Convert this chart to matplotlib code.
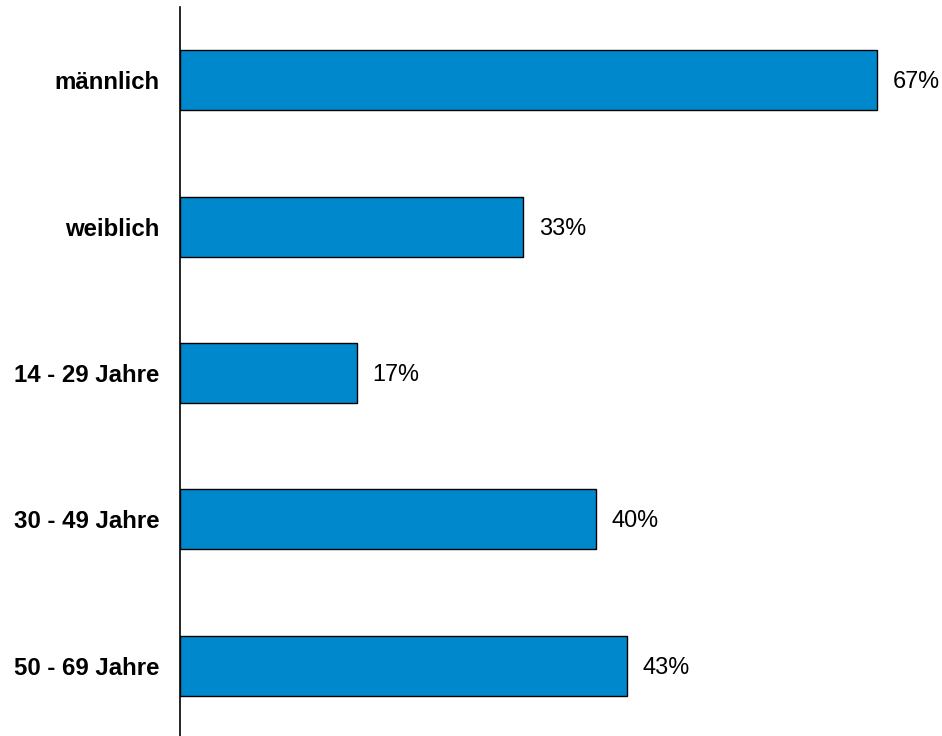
import matplotlib.pyplot as plt

plt.rcParams['font.family'] = ['Liberation Sans', 'DejaVu Sans']

kategorien = ["männlich", "weiblich", "14 - 29 Jahre", "30 - 49 Jahre", "50 - 69 Jahre"]
anteile = [67, 33, 17, 40, 43]

fig = plt.figure(figsize=(9.42, 7.36), dpi=100)
ax = fig.add_axes([180 / 942, 0, 1 - 180 / 942, 1 - 7 / 736])

pos = list(range(len(kategorien)))
ax.barh(pos, anteile, height=0.41, color="#0088CC", edgecolor="black", linewidth=1.0)

for p, v in zip(pos, anteile):
    ax.text(v + 1.5, p + 0.01, f"{v}%", va="center", ha="left", fontsize=16.9)

ax.set_yticks(pos)
ax.set_yticklabels(kategorien, fontsize=17.3, fontweight="bold")
ax.tick_params(axis="y", length=0, pad=15)
ax.set_xticks([])
ax.set_xlim(0, (942 - 180) / 10.4)
ax.set_ylim(4.48, -0.5)

for s in ["top", "right", "bottom"]:
    ax.spines[s].set_visible(False)
ax.spines["left"].set_linewidth(1.2)

fig.savefig("out.png", dpi=100)
